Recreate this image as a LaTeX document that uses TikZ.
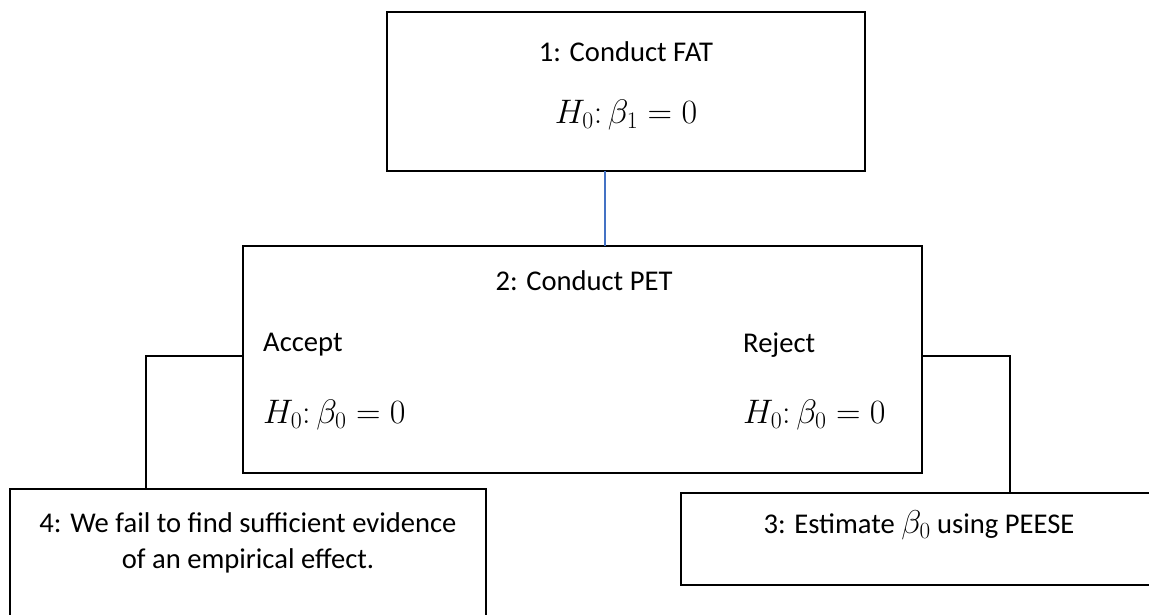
\RequirePackage{fix-cm}
\documentclass[tikz,border=0pt]{standalone}
\usepackage[no-math]{fontspec}
\setmainfont{Carlito}
\definecolor{officeblue}{RGB}{68,114,196}
\begin{document}
\begin{tikzpicture}[x=1pt,y=-1pt,
  box/.style={draw=black,line width=2pt},
  lbl/.style={inner sep=0pt,font=\fontsize{28.6}{34}\selectfont},
  mth/.style={inner sep=0pt,font=\fontsize{34}{40}\selectfont},
  conn/.style={draw=black,line width=2pt},
  bconn/.style={draw=officeblue,line width=1.5pt}]
\clip (0,0) rectangle (1149,614);
\fill[white] (0,0) rectangle (1149,614);
% boxes
\draw[box] (387,12) rectangle (865,171);
\coordinate (b1s) at (605,171);
\draw[box] (243,246) rectangle (922,473);
\coordinate (b2n) at (605,246);
\coordinate (b2w) at (243,356);
\coordinate (b2e) at (922,356);
\draw[box] (10,640) -- (10,489) -- (486,489) -- (486,640);
\coordinate (b4n) at (146,489);
\draw[box] (1170,493) -- (681,493) -- (681,585) -- (1170,585);
\coordinate (b3n) at (1010,493);
% texts
\node[lbl] (t1) at (626,52) {1: Conduct FAT};
\node[mth] (m1) at (626,115) {$H_0\colon \beta_1 = 0$};
\node[lbl] (t2) at (584,281) {2: Conduct PET};
\node[lbl,anchor=west] (ta) at (263,345) {Accept};
\node[mth,anchor=west] (ma) at (263,415) {$H_0\colon \beta_0 = 0$};
\node[lbl,anchor=west] (tr) at (743,345) {Reject};
\node[mth,anchor=west] (mr) at (743,415) {$H_0\colon \beta_0 = 0$};
\node[lbl] (t3) at (919,525) {3: Estimate {\fontsize{33}{36}\selectfont$\beta_0$} using PEESE};
\node[lbl,align=center] (t4) at (248,543) {4: We fail to find sufficient evidence\\[2pt] of an empirical effect.};
% connectors
\draw[bconn] (b1s) -- (b2n);
\draw[conn] (b2w) -- (146,356) -- (b4n);
\draw[conn] (b2e) -- (1010,356) -- (b3n);
\end{tikzpicture}
\end{document}
